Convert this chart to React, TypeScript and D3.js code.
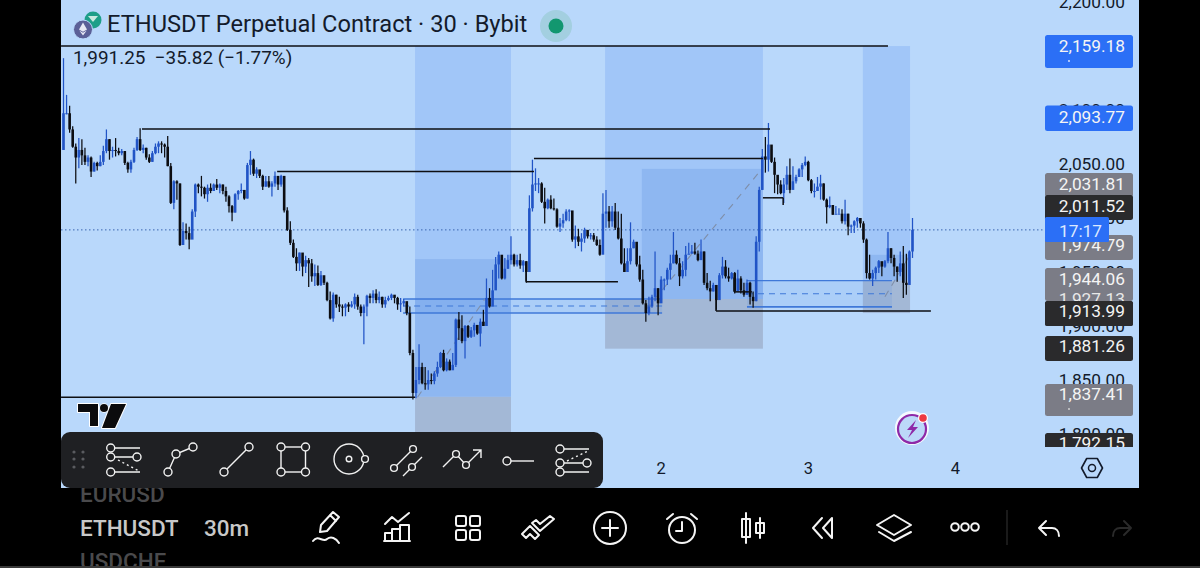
import React from 'react';
import * as d3 from 'd3';

const firstOpen = 2063;
const closes = [
2097,2097,2082,2066,2056,2063,2058,2052,2056,2043,
2051,2048,2052,2062,2073,2062,2063,2062,2060,2062,
2051,2045,2052,2063,2073,2063,2065,2056,2052,2060,
2066,2069,2068,2066,2048,2014,2034,2032,1975,1988,
1986,1980,2006,2031,2029,2028,2022,2028,2025,2031,
2028,2031,2025,2020,2011,2005,2022,2025,2026,2018,
2049,2054,2041,2045,2039,2029,2034,2029,2032,2039,
2031,2039,2007,1989,1977,1964,1958,1968,1955,1961,
1958,1946,1949,1938,1947,1940,1924,1907,1929,1920,
1918,1917,1920,1918,1920,1927,1918,1912,1918,1928,
1926,1930,1924,1927,1920,1924,1926,1929,1926,1920,
1921,1923,1912,1875,1838,
1850,1862,1847,1846,1850,1849,1856,1862,1875,1859,
1867,1859,1864,1906,1898,1886,1900,1890,1896,1901,
1893,1904,1900,1926,1918,1933,1957,1966,1944,1953,
1961,1966,1957,1961,1956,1960,1950,2009,2031,2032,
2032,2015,2009,2017,2009,2008,1992,1995,1998,2006,
2007,1980,1983,1978,1981,1989,1983,1984,1980,1975,
1966,2004,2006,1997,2006,1991,1981,1958,1950,1960,
1972,1978,1957,1943,1921,
1912,1918,1927,1935,1921,1943,1943,1952,1958,1966,
1958,1946,1952,1966,1967,1969,1967,1961,1969,1940,
1935,1932,1938,1924,1947,1955,1946,1944,1949,1932,
1944,1933,1929,1940,1927,1923,1978,2026,2057,2054,
2068,2052,2040,2031,2023,2031,2040,2026,2034,2038,
2045,2049,2052,2035,2025,2025,2029,2032,2017,2010,
2012,2003,2004,2004,1997,2004,1992,1993,1997,2000,
1995,1980,1949,1944,1949,1954,1960,1955,1960,1972,
1963,1955,1950,1958,1940,1938,1969,1989];
const highs = [
2148,2114,2104,2085,2069,2074,2073,2065,2058,2057,
2052,2052,2058,2067,2082,2073,2066,2074,2065,2064,
2062,2052,2054,2065,2075,2083,2068,2065,2059,2062,
2069,2071,2071,2069,2076,2051,2035,2035,2032,1996,
1995,1992,2008,2032,2032,2039,2029,2031,2032,2032,
2036,2032,2031,2029,2021,2012,2023,2026,2032,2025,
2051,2062,2055,2047,2044,2040,2039,2039,2034,2043,
2039,2040,2036,2010,1997,1980,1972,1968,1964,1965,
1963,1962,1957,1956,1951,1945,1941,1932,1931,1929,
1927,1920,1921,1922,1923,1930,1929,1920,1920,1929,
1930,1933,1934,1932,1927,1927,1928,1930,1928,1927,
1926,1925,1921,1918,1878,
1862,1883,1866,1862,1859,1856,1858,1867,1876,1878,
1870,1869,1875,1907,1913,1910,1901,1901,1899,1903,
1901,1907,1915,1944,1935,1952,1964,1969,1964,1963,
1966,1983,1967,1966,1967,1961,1960,2021,2054,2046,
2037,2033,2028,2018,2021,2018,2009,2000,2004,2008,
2008,2005,1993,1990,1986,1991,1987,1986,1986,1983,
1980,2023,2026,2011,2011,2014,2006,2004,1972,1972,
1996,1980,1974,1965,1952,
1924,1927,1929,1969,1935,1946,1944,1954,1966,1987,
1970,1963,1960,1974,1977,1975,1977,1970,1980,1969,
1949,1942,1940,1938,1949,1964,1961,1954,1950,1950,
1952,1946,1940,1943,1941,1932,1983,2029,2064,2075,
2088,2064,2056,2038,2035,2037,2048,2055,2048,2040,
2046,2051,2057,2053,2036,2032,2038,2040,2032,2018,
2020,2012,2011,2009,2008,2017,2004,1994,1998,2001,
1998,1997,1981,1966,1952,1955,1961,1958,1961,1987,
1972,1966,1955,1969,1974,1967,1970,2000];
const lows = [
2063,2096,2079,2065,2032,2046,2049,2049,2048,2038,
2043,2044,2048,2049,2060,2054,2056,2057,2058,2058,
2049,2042,2042,2051,2062,2062,2060,2054,2051,2052,
2059,2060,2060,2056,2048,2013,2008,2017,1974,1978,
1980,1971,1984,2001,2023,2020,2018,2015,2023,2025,
2026,2023,2022,2015,2005,1997,2005,2017,2023,2017,
2018,2040,2039,2037,2037,2026,2029,2028,2020,2029,
2026,2029,2005,1988,1975,1963,1951,1951,1946,1949,
1936,1941,1937,1937,1937,1938,1923,1906,1904,1917,
1913,1909,1909,1913,1917,1916,1915,1909,1883,1909,
1921,1921,1921,1921,1917,1917,1923,1924,1921,1915,
1913,1918,1910,1873,1832,
1833,1846,1846,1841,1841,1846,1846,1853,1861,1858,
1858,1859,1862,1862,1887,1884,1870,1889,1889,1890,
1892,1881,1900,1900,1917,1924,1937,1944,1943,1943,
1953,1957,1955,1955,1953,1950,1940,1950,2006,2025,
2023,2014,1995,2008,2008,2007,1991,1987,1991,1997,
1997,1978,1972,1974,1969,1977,1981,1980,1978,1974,
1965,1972,1991,1991,1992,1989,1980,1957,1950,1957,
1957,1972,1955,1941,1920,
1904,1910,1917,1923,1910,1923,1933,1938,1943,1958,
1957,1937,1944,1946,1967,1967,1966,1960,1967,1938,
1933,1923,1932,1915,1926,1944,1944,1941,1943,1930,
1943,1930,1927,1929,1920,1917,1923,1969,2026,2042,
2043,2051,2023,2022,2022,2014,2026,2023,2031,2032,
2038,2038,2048,2034,2023,2019,2025,2017,2016,1995,
2009,2003,2004,2004,1995,1994,1984,1986,1986,1991,
1991,1977,1944,1943,1937,1943,1949,1946,1954,1958,
1958,1946,1941,1946,1926,1929,1940,1963];

// [startBar, endBar, top price, bottom price]
const lightZones = [[114.7,146,2159.18,1962],[176.7,228.2,2159.18,1925],[260.8,276.2,2159.18,1942]];
const darkZones = [[114.7,146,1962,1834.4],[188.7,228.2,2045.5,1925],[263,276.2,1965.9,1942]];
const grayZones = [[114.7,146,1834.4,1795],[176.7,228.2,1925,1879],[260.8,276.2,1942,1912]];
const rangeZones = [[110.8,195.3,1925,1912],[223,270.3,1942,1917.7]];
// [startBar, endBar, price]
const blackLevels = [[-0.8,269,2159.18],[25.6,230.5,2082.5],[69.7,153.5,2043],[153.5,228.2,2055],[-0.8,114.7,1834],[150.9,180.9,1941],[228.2,234.8,2018.7],[212.9,283,1914],[218.8,224.6,1931.6]];
// [bar, priceA, priceB]
const blackStems = [[150.9,1951,1941],[212.9,1928,1914],[218.8,1945,1931.6],[234.8,2018.7,2012]];
// [barA, priceA, barB, priceB]
const dashedPaths = [[115.5,1834,137.5,1925],[190,1915,228,2046],[268,1927,276,1965]];
const lastPrice = 1989;

const dayLabels = ['2','3','4'];
const dayBars = [195,243,291];
const priceTicks = [2200,2100,2050,2000,1950,1900,1850,1800];
const hiddenLevelLabel = '1,927.13';
const tagLabels = ['2,159.18','2,093.77','2,031.81','2,011.52','1,974.79','1,944.06','1,913.99','1,881.26','1,837.41','1,792.15'];
const tagPrices = [2159.18,2093.77,2031.81,2011.52,1974.79,1944.06,1913.99,1881.26,1837.41,1792.15];
const tagKinds = ['blue','blue','gray','dark','gray','gray','dark','dark','gray','dark'];
const tagHeights: [number,number][] = [[35,68],[105.5,131],[173,197],[195,220],[235,260],[268,301],[301,326],[336,361],[384,416],[433,458]];
const tagFill: Record<string,string> = {blue:'#2b6ff6',gray:'#7b7c86',dark:'#2a2a2c'};

const W = 1200, H = 568;
const x = d3.scaleLinear().domain([0,277]).range([63.5,912.5]);
const y = d3.scaleLinear().domain([1850,2050]).range([380,164]);
const UP = '#2154c6', DOWN = '#0c0d11', INK = '#131b2b';
const FONT = 'Roboto, sans-serif';
const AX = 17.3;

function Z({d,fill,op=1}:{d:number[],fill:string,op?:number}) {
  return <rect x={x(d[0])} y={y(d[2])} width={x(d[1])-x(d[0])} height={y(d[3])-y(d[2])} fill={fill} fillOpacity={op}/>;
}
function C({cx,cy,r=4}:{cx:number,cy:number,r?:number}) {
  return <circle cx={cx} cy={cy} r={r} fill="#1f2023" stroke="#f2f2f2" strokeWidth={1.4}/>;
}
function L({d,w=1.4,dash}:{d:string,w?:number,dash?:string}) {
  return <path d={d} fill="none" stroke="#f2f2f2" strokeWidth={w} strokeDasharray={dash}/>;
}

export default function App() {
  const opens = closes.map((_,i)=> i===0 ? firstOpen : closes[i-1]);
  return (
    <svg width={W} height={H} viewBox={`0 0 ${W} ${H}`} style={{position:'fixed',left:0,top:0,display:'block',background:'#000'}} fontFamily={FONT}>
      <defs>
        <clipPath id="plot"><rect x={61} y={0} width={984} height={488}/></clipPath>
        <clipPath id="axis"><rect x={1040} y={0} width={99} height={447}/></clipPath>
        <clipPath id="sym"><rect x={60} y={488} width={118.5} height={78}/></clipPath>
      </defs>
      <rect x={61} y={0} width={1078} height={488} fill="#b9d8fb"/>
      <g clipPath="url(#plot)">
        {lightZones.map((d,i)=><Z key={i} d={d} fill="#a1c6f8"/>)}
        {darkZones.map((d,i)=><Z key={i} d={d} fill="#8eb7f1"/>)}
        {grayZones.map((d,i)=><Z key={i} d={d} fill="#a3b8d6"/>)}
        <line x1={61} x2={1045} y1={y(lastPrice)} y2={y(lastPrice)} stroke="#3a66b0" strokeWidth={1} strokeDasharray="1.5 2.5"/>
        {rangeZones.map((d,i)=>{
          const mid=(d[2]+d[3])/2;
          return <g key={i}>
            <Z d={d} fill="#2f74e6" op={0.1}/>
            <line x1={x(d[0])} x2={x(d[1])} y1={y(d[2])} y2={y(d[2])} stroke="#3f78d8" strokeWidth={1.3}/>
            <line x1={x(d[0])} x2={x(d[1])} y1={y(d[3])} y2={y(d[3])} stroke="#3f78d8" strokeWidth={1.6}/>
            <line x1={x(d[0])} x2={x(d[1])} y1={y(mid)} y2={y(mid)} stroke="#3f78d8" strokeWidth={1.1} strokeDasharray="6 5"/>
          </g>;
        })}
        {dashedPaths.map((d,i)=><line key={i} x1={x(d[0])} y1={y(d[1])} x2={x(d[2])} y2={y(d[3])} stroke="#7f8ea8" strokeWidth={1.1} strokeDasharray="7 6"/>)}
        {closes.map((c,i)=>{
          const o=opens[i], col = c>=o ? UP : DOWN, cx=x(i);
          const top=y(Math.max(o,c)), bot=y(Math.min(o,c));
          return <g key={i}>
            <line x1={cx} x2={cx} y1={y(highs[i])} y2={y(lows[i])} stroke={col} strokeWidth={1.25}/>
            <rect x={cx-1.3} y={top} width={2.6} height={Math.max(bot-top,1)} fill={col}/>
          </g>;
        })}
        {blackLevels.map((d,i)=><line key={i} x1={x(d[0])} x2={x(d[1])} y1={y(d[2])} y2={y(d[2])} stroke="#0e0f13" strokeWidth={1.5}/>)}
        {blackStems.map((d,i)=><line key={i} x1={x(d[0])} x2={x(d[0])} y1={y(d[1])} y2={y(d[2])} stroke="#0e0f13" strokeWidth={1.5}/>)}
      </g>

      {/* header */}
      <circle cx={93} cy={20} r={8.5} fill="#1e9e88"/>
      <path d="M88 16h10l-5 6z" fill="#c9e9e0"/>
      <circle cx={83} cy={29.5} r={9.5} fill="#5b5f97" stroke="#b9d8fb" strokeWidth={1}/>
      <path d="M83 22.5l4 7-4 2.3-4-2.3zM79.3 30.6l3.7 2.2 3.7-2.2-3.7 5z" fill="#e8e8f4"/>
      <text x={107} y={32} fontSize={23.65} fill={INK}>ETHUSDT Perpetual Contract · 30 · Bybit</text>
      <circle cx={556} cy={26} r={16} fill="#a3cfe0"/>
      <circle cx={556} cy={26} r={7.5} fill="#12976f"/>
      <text x={73} y={63.5} fontSize={18.9} fill={INK} xmlSpace="preserve">1,991.25  −35.82 (−1.77%)</text>

      {/* TradingView logo */}
      <g>
        <path d="M78 404h20v22h-8v-14h-12z M111 404h15l-11 24h-13z" fill="#0b0b0d" stroke="#fff" strokeWidth={2} paintOrder="stroke" strokeLinejoin="round"/>
        <circle cx={104} cy={408} r={4} fill="#0b0b0d" stroke="#fff" strokeWidth={1.5} paintOrder="stroke"/>
      </g>

      {/* right axis */}
      <g clipPath="url(#axis)">
        {priceTicks.map((p,i)=><text key={i} x={1125} y={y(p)+6} textAnchor="end" fontSize={AX} fill={INK}>{d3.format(',.2f')(p)}</text>)}
        {tagLabels.map((t,i)=>(
          <g key={i}>
            <rect x={1045} y={tagHeights[i][0]} width={88} height={tagHeights[i][1]-tagHeights[i][0]} rx={2.5} fill={tagFill[tagKinds[i]]}/>
            {t==='1,944.06' ? <text x={1125} y={305} textAnchor="end" fontSize={AX} fill="#e8e8e8">{hiddenLevelLabel}</text> : null}
            <text x={1125} y={y(tagPrices[i])+6.2} textAnchor="end" fontSize={AX} fill="#f4f4f4">{t}</text>
          </g>
        ))}
        <circle cx={1069} cy={61} r={0.9} fill="#e8eeff"/>
        <circle cx={1069} cy={409} r={0.9} fill="#d8d8d8"/>
        <rect x={1045} y={301} width={88} height={25} rx={2.5} fill={tagFill.dark}/>
        <text x={1125} y={y(1913.99)+6.2} textAnchor="end" fontSize={AX} fill="#f4f4f4">1,913.99</text>
        <rect x={1045} y={217} width={64} height={25} rx={1.5} fill="#2b6ff6"/>
        <text x={1059} y={236.5} fontSize={AX} fill="#dce8ff">17:17</text>
      </g>
      <path d="M1081.5 468L1086.7 458.5H1097.3L1102.5 468L1097.3 477.5H1086.7Z" fill="none" stroke={INK} strokeWidth={1.6} strokeLinejoin="round"/>
      <circle cx={1092} cy={468} r={3.5} fill="none" stroke={INK} strokeWidth={1.5}/>

      {/* time axis */}
      {dayBars.map((b,i)=><text key={i} x={x(b)} y={474} textAnchor="middle" fontSize={16.5} fill={INK}>{dayLabels[i]}</text>)}

      {/* flash badge */}
      <circle cx={912} cy={428} r={17} fill="#fff" fillOpacity={0.85}/>
      <circle cx={912} cy={429} r={14} fill="#bcd8f9" stroke="#8e2aa8" strokeWidth={2.2}/>
      <path d="M916 420l-9 10h5l-4 8 10-11h-5z" fill="#8e2aa8"/>
      <circle cx={923} cy={418} r={5} fill="#fff"/>
      <circle cx={923} cy={418} r={3.8} fill="#ee3a42"/>

      {/* drawing toolbar */}
      <rect x={61} y={432} width={542} height={56} rx={9} fill="#1f2023"/>
      {[74,83].map(a=>[452,459,467].map(b=><circle key={a+'-'+b} cx={a} cy={b} r={1.6} fill="#5a5b60"/>))}
      <L d="M114 448H140M114 457H133M114 472H140"/><L d="M118 460L139 471" dash="2 3"/>
      <C cx={110.7} cy={448}/><C cx={110.7} cy={457}/><C cx={137} cy={457}/><C cx={110.7} cy={472}/>
      <L d="M168 472L176 454L193 447"/><C cx={168} cy={472}/><C cx={176} cy={454}/><C cx={193} cy={447}/>
      <L d="M224 472L249 447"/><C cx={224} cy={472}/><C cx={249} cy={447}/>
      <rect x={281} y={447} width={24.5} height={25} fill="none" stroke="#f2f2f2" strokeWidth={1.4}/>
      <C cx={281} cy={447}/><C cx={305.5} cy={447}/><C cx={281} cy={472}/><C cx={305.5} cy={472}/>
      <circle cx={349} cy={459} r={15} fill="none" stroke="#f2f2f2" strokeWidth={1.4}/><C cx={349} cy={459} r={2.8}/><C cx={365} cy={459} r={3.4}/>
      <L d="M394 468L413 449M403 476L422 457"/><C cx={394} cy={468} r={3.4}/><C cx={413} cy={449} r={3.4}/><C cx={412} cy={467} r={3.4}/>
      <L d="M443 467L456 454L466 465L481 450M473 450H481V458"/><C cx={456} cy={454} r={3.4}/><C cx={466} cy={465} r={3.4}/>
      <L d="M511 461H534"/><C cx={507} cy={461}/>
      <L d="M564 449H589M564 463H583M564 472H589"/><L d="M567 461L588 451" dash="2 3"/>
      <C cx={560} cy={449}/><C cx={560} cy={463}/><C cx={587} cy={463}/><C cx={560} cy={472}/>

      {/* symbol picker */}
      <g clipPath="url(#sym)" fontWeight={500}>
        <text x={80} y={502} fontSize={22.5} fill="#4a4a4c">EURUSD</text>
        <text x={80} y={536} fontSize={22.5} fill="#c8c8c8">ETHUSDT</text>
        <text x={80} y={569} fontSize={22.5} fill="#4a4a4c">USDCHF</text>
      </g>
      <text x={204} y={536} fontSize={22.5} fontWeight={500} fill="#c8c8c8">30m</text>

      {/* bottom bar icons */}
      <g fill="none" stroke="#f4f4f4" strokeWidth={2} strokeLinejoin="round" strokeLinecap="round">
        <path d="M321 525L333 512L339 517L327 531L320 532zM330 515L336 521M313 541C318 534 323 543 327 539C331 536 336 538 339 543"/>
        <path d="M385 524L392 517L398 522L409 513M385 541V533H392V541ZM392 541V529H400V541ZM400 541V525H409V541ZM384 541H410"/>
        <rect x={456} y={516} width={10} height={10} rx={2}/><rect x={470} y={516} width={10} height={10} rx={2}/><rect x={456} y={530} width={10} height={10} rx={2}/><rect x={470} y={530} width={10} height={10} rx={2}/>
        <path d="M522 534L530 526L539 535L535 539L530 534L526 538ZM532 523L540 531L554 519L550 516L540 524L536 520Z"/>
        <circle cx={610} cy={528} r={16}/><path d="M610 520V536M602 528H618"/>
        <circle cx={682} cy={530} r={13}/><path d="M682 522V531H676M667 519L673 514M697 519L691 514"/>
        <path d="M746 513V543M746 519H750V537H742V519ZM760 518V538M756 523H764V533H756Z"/>
        <path d="M822 518L813 528L822 538M832 518L823 528L832 538V518Z"/>
        <path d="M894 515L911 525L894 535L877 525ZM879 532L894 541L911 532"/>
        <circle cx={955} cy={527} r={3.8}/><circle cx={965} cy={527} r={3.8}/><circle cx={975} cy={527} r={3.8}/>
        <path d="M1039 528H1052C1056 528 1059 531 1059 536M1046 521L1039 528L1046 535"/>
        <path d="M1131 528H1120C1116 528 1113 531 1113 536M1124 521L1131 528L1124 535" stroke="#2a2a2a"/>
      </g>
      <line x1={1007} x2={1007} y1={510} y2={545} stroke="#2c2c2c" strokeWidth={1.2}/>
      <rect x={0} y={566} width={1200} height={2} fill="#3a3a3a"/>
    </svg>
  );
}
